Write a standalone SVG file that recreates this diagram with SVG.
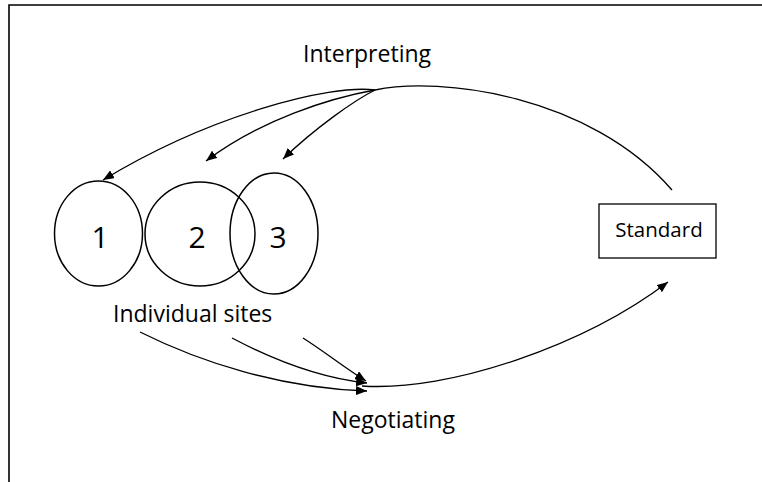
<svg xmlns="http://www.w3.org/2000/svg" width="762" height="482" viewBox="0 0 762 482">
  <style>
    .frame { fill: none; stroke: #000; stroke-width: 1.6; }
    .site { fill: none; stroke: #000; stroke-width: 1.5; }
    .box { fill: #fff; stroke: #000; stroke-width: 1.3; }
    .link { fill: none; stroke: #000; stroke-width: 1.3; }
    .label { font-family: "Open Sans", "Noto Sans", sans-serif; font-size: 23px; fill: #000; }
    .num { font-family: "Open Sans", "Noto Sans", sans-serif; font-size: 30px; fill: #000; text-anchor: middle; }
    .small { font-family: "Open Sans", "Noto Sans", sans-serif; font-size: 20.5px; fill: #000; text-anchor: middle; }
  </style>
  <defs>
    <marker id="arrow" markerUnits="userSpaceOnUse" markerWidth="11" markerHeight="9" refX="11" refY="4.5" orient="auto">
      <path d="M0,0 L11,4.5 L0,9 Z" fill="#000"/>
    </marker>
  </defs>

  <rect width="762" height="482" fill="#fff"/>
  <!-- open frame: top and left edges -->
  <path class="frame" d="M9,482 V5 H762"/>

  <g id="site-1">
    <ellipse class="site" cx="98.5" cy="233.5" rx="44" ry="52.5"/>
    <text class="num" x="100" y="248">1</text>
  </g>
  <g id="site-2">
    <ellipse class="site" cx="200" cy="234" rx="55" ry="52"/>
    <text class="num" x="197" y="248">2</text>
  </g>
  <g id="site-3">
    <ellipse class="site" cx="274" cy="233.5" rx="44" ry="60.5"/>
    <text class="num" x="278" y="248">3</text>
  </g>
  <g id="standard">
    <rect class="box" x="599" y="204" width="117" height="54"/>
    <text class="small" x="659" y="237">Standard</text>
  </g>

  <g id="labels">
    <text class="label" x="303" y="62">Interpreting</text>
    <text class="label" x="113" y="322">Individual sites</text>
    <text class="label" x="331" y="428">Negotiating</text>
  </g>

  <g id="connectors">
    <!-- interpreting: standard back to the sites -->
    <path class="link" d="M375,90 C440,76 590,95 672,190"/>
    <path class="link" marker-end="url(#arrow)" d="M375,90 C330,84 210,115 103,180"/>
    <path class="link" marker-end="url(#arrow)" d="M375,90 C330,98 260,120 206,161"/>
    <path class="link" marker-end="url(#arrow)" d="M375,90 C355,100 315,128 283,159"/>
    <!-- negotiating: sites forward to the standard -->
    <path class="link" marker-end="url(#arrow)" d="M140,332 C200,362 280,388 367,391"/>
    <path class="link" marker-end="url(#arrow)" d="M232,338 C270,358 320,378 367,383"/>
    <path class="link" marker-end="url(#arrow)" d="M303,338 C325,352 345,368 366,381"/>
    <path class="link" marker-end="url(#arrow)" d="M362,386 C450,392 585,345 668,282"/>
  </g>
</svg>
